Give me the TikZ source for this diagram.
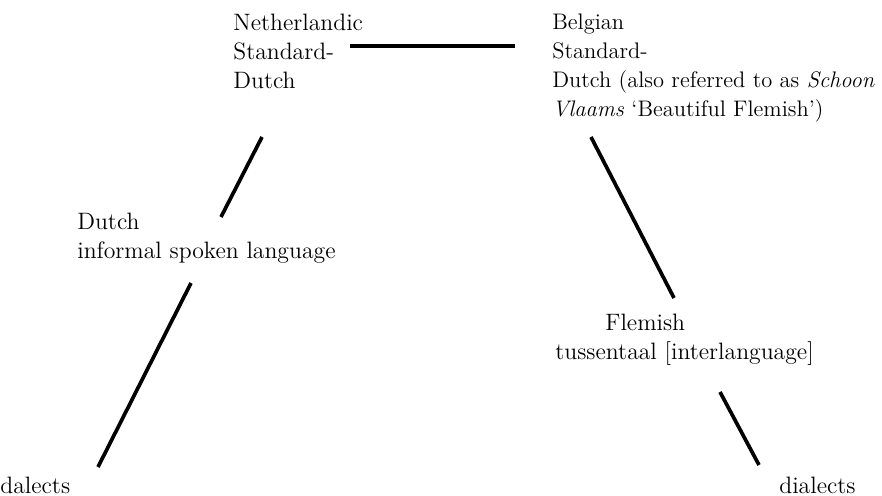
\documentclass[tikz,border=0pt]{standalone}
\begin{document}
\begin{tikzpicture}[x=0.02cm,y=-0.02cm,font=\fontsize{13.5}{16.4}\selectfont,
  lbl/.style={anchor=north west,inner sep=0pt,align=left},
  link/.style={line width=2.1pt}]
  \useasboundingbox (0,0) rectangle (882,496);
  % varieties
  \node[lbl] (nlstd) at (233,14) {Netherlandic\\Standard-\\Dutch};
  \node[lbl,font=\fontsize{12.8}{16.4}\selectfont] (bestd) at (552,14) {Belgian\\Standard-\\Dutch (also referred to as \emph{Schoon}\\\emph{Vlaams}\/ `Beautiful Flemish')};
  \node[lbl] (nlinf) at (77,213) {Dutch\\informal spoken language};
  \node[lbl] (beinf) at (555,314) {\hspace*{1cm}Flemish\\tussentaal [interlanguage]};
  \node[lbl] (nldial) at (0,477) {dalects};
  \node[lbl] (bedial) at (779,477) {dialects};
  % links
  \coordinate (s1) at (350,46);  \coordinate (e1) at (515,46);
  \coordinate (s2) at (262,137); \coordinate (e2) at (221,217);
  \coordinate (s3) at (191,283); \coordinate (e3) at (98,467);
  \coordinate (s4) at (591,137); \coordinate (e4) at (674,298);
  \coordinate (s5) at (720,392); \coordinate (e5) at (759,465);
  \foreach \i in {1,...,5}{\draw[link] (s\i) -- (e\i);}
\end{tikzpicture}
\end{document}
